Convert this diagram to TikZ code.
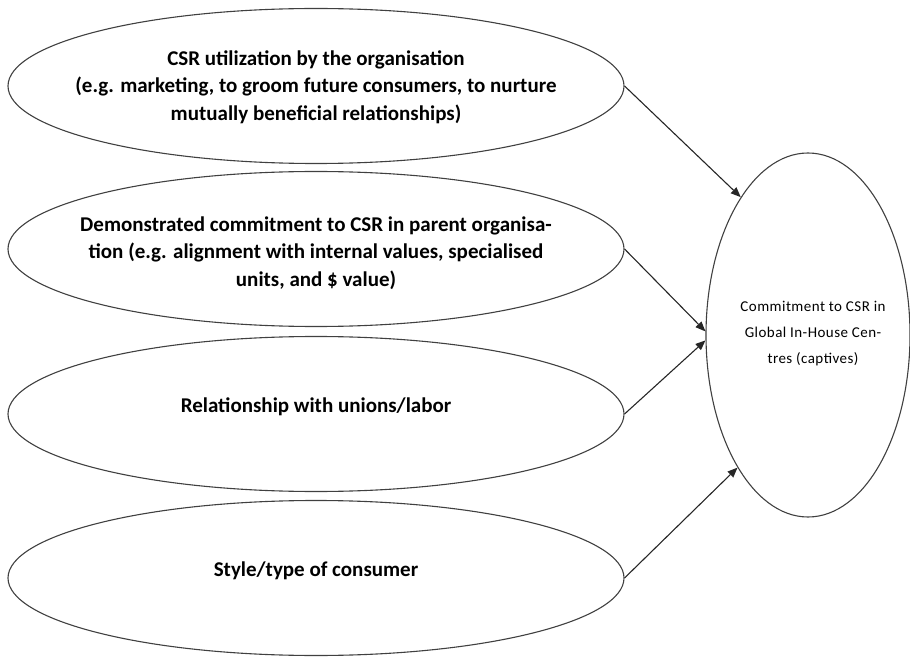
\documentclass[tikz,border=0pt]{standalone}
\usepackage{fontspec}
\setmainfont{Carlito}
\usetikzlibrary{shapes.geometric,arrows.meta}
\begin{document}
\begin{tikzpicture}[x=1pt,y=-1pt,
  oval/.style={ellipse, draw=black!75, line width=1.1pt, minimum width=616pt, minimum height=155pt, inner sep=0pt},
  txt/.style={align=center, inner sep=0pt, font=\bfseries\fontsize{21}{27.5}\selectfont},
  goal/.style={ellipse, draw=black!75, line width=1.1pt, minimum width=204pt, minimum height=364pt, inner sep=0pt},
  goaltxt/.style={align=center, inner sep=0pt, font=\fontsize{15}{26}\selectfont\addfontfeatures{LetterSpace=3}},
  conn/.style={draw=black!85, line width=1.1pt, -{Triangle[length=10pt,width=8pt]}}]
\useasboundingbox (0,0) rectangle (910,660);
\node[oval] (a) at (316,86) {};
\node[txt] (ta) at (316,87) {CSR utilization by the organisation\\(e.g. marketing, to groom future consumers, to nurture\\mutually beneficial relationships)};
\node[oval] (b) at (316,249) {};
\node[txt] (tb) at (316,253) {Demonstrated commitment to CSR in parent organisa-\\tion (e.g. alignment with internal values, specialised\\units, and \$ value)};
\node[oval] (c) at (316,414) {};
\node[txt] (tc) at (316,407) {Relationship with unions/labor};
\node[oval] (d) at (316,578) {};
\node[txt] (td) at (316,571) {Style/type of consumer};
\node[goal] (g) at (808,335) {};
\node[goaltxt] (tg) at (813,334) {Commitment to CSR in\\Global In-House Cen-\\tres (captives)};
\draw[conn] (a.east) -- (g.116);
\draw[conn] (b.east) -- (g.178);
\draw[conn] (c.east) -- (g.183);
\draw[conn] (d.east) -- (g.242);
\end{tikzpicture}
\end{document}
